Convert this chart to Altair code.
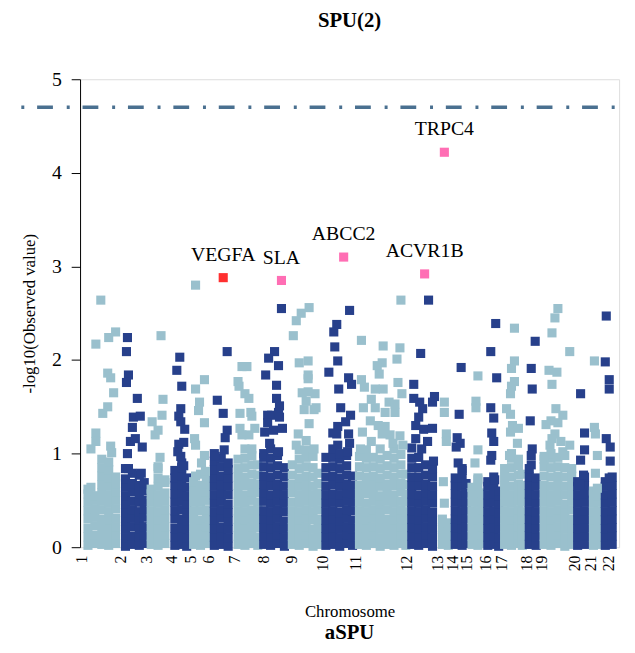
import altair as alt
import pandas as pd

# Chromosome start positions (cumulative gene index units)
chrom_starts = [83, 122, 148, 174, 193, 211, 237, 267, 295, 327, 360, 412,
                443, 458, 473, 492, 508, 533, 548, 582, 598, 616]

# Dense lower band: chromosome -> list of (position, [-log10 p values])
band = {
    1: [(89, [0.02, 0.11, 0.20, 0.30, 0.39, 0.48, 0.57, 0.62]),
        (96, [0.04, 0.13, 0.23, 0.32, 0.41, 0.50, 0.55]),
        (103, [0.03, 0.12, 0.21, 0.30, 0.40, 0.49, 0.58, 0.67, 0.76, 0.85, 0.94]),
        (110, [0.02, 0.11, 0.20, 0.29, 0.38, 0.47, 0.56, 0.65, 0.74, 0.83, 0.91]),
        (117, [0.04, 0.13, 0.22, 0.31, 0.41, 0.50, 0.59, 0.68, 0.75])],
    2: [(127, [0.01, 0.10, 0.19, 0.28, 0.37, 0.46, 0.55, 0.64, 0.73, 0.84]),
        (134, [0.03, 0.12, 0.22, 0.31, 0.40, 0.49, 0.59, 0.68, 0.79]),
        (141, [0.02, 0.11, 0.20, 0.29, 0.38, 0.48, 0.57, 0.66, 0.77]),
        (146, [0.04, 0.13, 0.22, 0.32, 0.41, 0.50, 0.60, 0.69])],
    3: [(153, [0.03, 0.12, 0.21, 0.30, 0.39, 0.48, 0.57, 0.62]),
        (160, [0.02, 0.11, 0.20, 0.29, 0.38, 0.47, 0.56, 0.65, 0.74, 0.84]),
        (167, [0.04, 0.13, 0.22, 0.31, 0.40, 0.49, 0.58, 0.69])],
    4: [(177, [0.02, 0.11, 0.20, 0.30, 0.39, 0.48, 0.57, 0.66, 0.74, 0.82]),
        (184, [0.03, 0.12, 0.21, 0.30, 0.40, 0.49, 0.58, 0.67, 0.76, 0.85, 0.90]),
        (189, [0.01, 0.10, 0.19, 0.28, 0.37, 0.46, 0.55, 0.64, 0.74])],
    5: [(196, [0.03, 0.12, 0.21, 0.30, 0.39, 0.48, 0.57, 0.66, 0.70]),
        (203, [0.02, 0.11, 0.20, 0.29, 0.39, 0.48, 0.57, 0.66, 0.78]),
        (209, [0.04, 0.13, 0.22, 0.31, 0.40, 0.50, 0.59, 0.68, 0.75])],
    6: [(217, [0.02, 0.11, 0.20, 0.29, 0.38, 0.47, 0.56, 0.65, 0.74, 0.83, 0.92, 1.00]),
        (224, [0.03, 0.12, 0.21, 0.31, 0.40, 0.49, 0.58, 0.67, 0.76, 0.86, 0.95]),
        (231, [0.01, 0.10, 0.19, 0.28, 0.37, 0.46, 0.56, 0.65, 0.74, 0.83, 0.90])],
    7: [(241, [0.03, 0.12, 0.21, 0.30, 0.39, 0.48, 0.57, 0.66, 0.75, 0.84, 0.94]),
        (248, [0.02, 0.11, 0.20, 0.29, 0.38, 0.47, 0.56, 0.66, 0.75, 0.85, 0.95, 1.05]),
        (255, [0.04, 0.13, 0.22, 0.31, 0.40, 0.50, 0.59, 0.68, 0.78, 0.88, 0.98]),
        (261, [0.02, 0.11, 0.21, 0.30, 0.39, 0.48, 0.58, 0.67, 0.77, 0.88])],
    8: [(267, [0.03, 0.12, 0.21, 0.30, 0.39, 0.49, 0.58, 0.67, 0.76, 0.86, 0.96, 1.00]),
        (274, [0.02, 0.11, 0.20, 0.29, 0.38, 0.47, 0.56, 0.66, 0.75, 0.85, 0.95, 1.05]),
        (281, [0.04, 0.13, 0.22, 0.31, 0.40, 0.49, 0.58, 0.67, 0.77, 0.87, 0.98]),
        (288, [0.01, 0.10, 0.19, 0.28, 0.38, 0.47, 0.56, 0.65, 0.75, 0.85])],
    9: [(296, [0.03, 0.12, 0.21, 0.30, 0.39, 0.48, 0.58, 0.67, 0.77, 0.88]),
        (303, [0.02, 0.11, 0.20, 0.29, 0.38, 0.47, 0.56, 0.65, 0.74, 0.84, 0.94, 1.04]),
        (310, [0.04, 0.13, 0.22, 0.31, 0.40, 0.49, 0.58, 0.67, 0.76, 0.86, 0.96, 1.04]),
        (317, [0.01, 0.10, 0.19, 0.29, 0.38, 0.47, 0.56, 0.65, 0.75, 0.85, 0.97]),
        (322, [0.03, 0.12, 0.21, 0.30, 0.40, 0.49, 0.58, 0.68, 0.79])],
    10: [(330, [0.02, 0.11, 0.20, 0.29, 0.38, 0.47, 0.56, 0.65, 0.75, 0.85, 0.96]),
         (337, [0.03, 0.12, 0.21, 0.30, 0.39, 0.48, 0.57, 0.67, 0.76, 0.86, 0.96, 1.05]),
         (344, [0.01, 0.10, 0.19, 0.28, 0.37, 0.47, 0.56, 0.65, 0.74, 0.84, 0.94, 1.00]),
         (351, [0.04, 0.13, 0.22, 0.31, 0.40, 0.49, 0.58, 0.67, 0.77, 0.87, 0.98]),
         (357, [0.02, 0.11, 0.20, 0.29, 0.39, 0.48, 0.57, 0.66, 0.76])],
    11: [(364, [0.03, 0.12, 0.21, 0.30, 0.39, 0.48, 0.57, 0.66, 0.76, 0.86, 0.97]),
         (371, [0.02, 0.11, 0.20, 0.29, 0.38, 0.47, 0.57, 0.66, 0.75, 0.85, 0.95, 1.04]),
         (378, [0.04, 0.13, 0.22, 0.31, 0.40, 0.49, 0.58, 0.67, 0.76, 0.86, 0.96]),
         (385, [0.01, 0.10, 0.19, 0.28, 0.37, 0.46, 0.55, 0.65, 0.74, 0.84, 0.94, 1.05]),
         (392, [0.03, 0.12, 0.21, 0.30, 0.40, 0.49, 0.58, 0.67, 0.77, 0.87, 0.98]),
         (399, [0.02, 0.11, 0.20, 0.29, 0.38, 0.47, 0.56, 0.66, 0.75, 0.85, 0.95, 1.05]),
         (406, [0.04, 0.13, 0.22, 0.31, 0.40, 0.49, 0.59, 0.68, 0.78, 0.88, 0.99]),
         (411, [0.02, 0.11, 0.20, 0.29, 0.38, 0.48, 0.57, 0.67, 0.78])],
    12: [(417, [0.03, 0.12, 0.21, 0.30, 0.39, 0.48, 0.57, 0.66, 0.75, 0.85, 0.95, 1.06]),
         (424, [0.02, 0.11, 0.20, 0.29, 0.38, 0.47, 0.56, 0.66, 0.75, 0.85, 0.96]),
         (431, [0.04, 0.13, 0.22, 0.31, 0.40, 0.49, 0.58, 0.67, 0.77, 0.88]),
         (438, [0.01, 0.10, 0.19, 0.28, 0.37, 0.47, 0.56, 0.65, 0.75, 0.84])],
    13: [(448, [0.03, 0.12, 0.21, 0.30]),
         (454, [0.02, 0.11, 0.20, 0.26])],
    14: [(461, [0.03, 0.12, 0.21, 0.30, 0.39, 0.48, 0.57, 0.66, 0.74]),
         (468, [0.02, 0.11, 0.20, 0.29, 0.38, 0.47, 0.56, 0.65, 0.74, 0.84]),
         (472, [0.04, 0.13, 0.22, 0.31, 0.40, 0.49, 0.58, 0.68])],
    15: [(478, [0.03, 0.12, 0.21, 0.30, 0.39, 0.48, 0.57, 0.64]),
         (484, [0.02, 0.11, 0.20, 0.29, 0.38, 0.47, 0.56, 0.65, 0.74]),
         (488, [0.04, 0.13, 0.22, 0.31, 0.40, 0.49, 0.58])],
    16: [(494, [0.02, 0.11, 0.20, 0.29, 0.38, 0.47, 0.56, 0.65, 0.70]),
         (500, [0.03, 0.12, 0.21, 0.30, 0.39, 0.48, 0.57, 0.66, 0.75]),
         (505, [0.01, 0.10, 0.19, 0.28, 0.37, 0.46, 0.55, 0.60])],
    17: [(511, [0.03, 0.12, 0.21, 0.30, 0.39, 0.48, 0.57, 0.66, 0.75, 0.84]),
         (518, [0.02, 0.11, 0.20, 0.29, 0.38, 0.47, 0.56, 0.65, 0.75, 0.85, 0.95, 1.00]),
         (525, [0.04, 0.13, 0.22, 0.31, 0.40, 0.49, 0.58, 0.67, 0.77, 0.87, 0.94]),
         (529, [0.02, 0.11, 0.20, 0.29, 0.38, 0.48, 0.57, 0.66, 0.78])],
    18: [(536, [0.03, 0.12, 0.21, 0.30, 0.39, 0.48, 0.57, 0.66, 0.75, 0.84]),
         (543, [0.02, 0.11, 0.20, 0.29, 0.38, 0.47, 0.56, 0.65, 0.74])],
    19: [(551, [0.03, 0.12, 0.21, 0.30, 0.39, 0.48, 0.57, 0.66, 0.76, 0.86, 0.94]),
         (558, [0.02, 0.11, 0.20, 0.29, 0.38, 0.47, 0.56, 0.65, 0.75, 0.85, 0.95, 1.00]),
         (565, [0.04, 0.13, 0.22, 0.31, 0.40, 0.49, 0.58, 0.67, 0.76, 0.86, 0.96]),
         (572, [0.01, 0.10, 0.19, 0.28, 0.37, 0.46, 0.56, 0.65, 0.75, 0.85, 0.98]),
         (579, [0.03, 0.12, 0.21, 0.30, 0.40, 0.49, 0.58, 0.67, 0.76, 0.84])],
    20: [(585, [0.02, 0.11, 0.20, 0.29, 0.38, 0.47, 0.56, 0.65, 0.70]),
         (592, [0.03, 0.12, 0.21, 0.30, 0.39, 0.48, 0.57, 0.66, 0.75])],
    21: [(601, [0.02, 0.11, 0.20, 0.29, 0.38, 0.47, 0.56, 0.60]),
         (606, [0.03, 0.12, 0.21, 0.30, 0.39, 0.48, 0.55])],
    22: [(613, [0.02, 0.11, 0.20, 0.29, 0.38, 0.47, 0.56, 0.65, 0.70]),
         (620, [0.03, 0.12, 0.21, 0.30, 0.39, 0.48, 0.57, 0.66, 0.75])],
}

# Scattered upper points: chromosome -> list of (position, -log10 p)
scatter = {
    1: [(102, 2.64), (117, 2.30), (110, 2.24), (97, 2.17), (109, 1.86), (112, 1.81), (115, 1.65),
        (109, 1.50), (104, 1.43), (97, 1.22), (97, 1.13), (92, 1.05), (112, 1.08), (113, 1.01), (92, 0.64)],
    2: [(129, 2.24), (128, 2.09), (130, 1.84), (128, 1.76), (139, 1.59), (135, 1.39), (142, 1.40),
        (134, 1.28), (132, 1.13), (137, 1.16), (144, 1.07), (129, 1.00), (130, 0.84), (143, 0.79)],
    3: [(163, 2.26), (165, 1.58), (164, 1.41), (154, 1.34), (160, 1.25), (157, 1.20), (162, 0.96),
        (160, 0.86), (167, 0.72)],
    4: [(182, 2.03), (179, 1.89), (184, 1.72), (183, 1.48), (181, 1.40), (183, 1.34), (187, 1.26),
        (186, 1.12), (181, 1.10), (183, 0.97), (180, 1.02), (186, 0.87)],
    5: [(198, 2.80), (207, 1.79), (198, 1.69), (202, 1.55), (201, 1.46), (207, 1.33), (197, 1.16),
        (198, 1.09), (207, 0.98), (204, 0.90), (198, 0.76), (208, 0.81)],
    6: [(230, 2.09), (220, 1.57), (226, 1.43), (230, 1.25), (228, 1.17), (227, 1.04), (218, 0.97)],
    7: [(250, 1.93), (245, 1.93), (241, 1.77), (242, 1.72), (248, 1.64), (252, 1.59), (243, 1.43),
        (254, 1.44), (255, 1.40), (243, 1.27), (258, 1.27), (245, 1.20), (252, 1.20), (255, 1.05)],
    8: [(285, 2.55), (278, 2.09), (272, 2.02), (282, 1.94), (269, 1.84), (280, 1.73), (280, 1.59),
        (283, 1.51), (282, 1.44), (271, 1.41), (275, 1.41), (271, 1.33), (283, 1.39), (268, 1.23),
        (277, 1.25), (286, 1.27), (273, 1.11), (282, 1.02)],
    9: [(313, 2.56), (305, 2.50), (300, 2.42), (297, 2.26), (303, 1.97), (312, 1.99), (312, 1.84),
        (312, 1.80), (306, 1.65), (312, 1.66), (319, 1.64), (310, 1.56), (308, 1.47), (318, 1.47),
        (320, 1.49), (313, 1.32), (302, 1.21), (310, 1.14), (300, 1.09), (318, 1.05)],
    10: [(341, 2.38), (338, 2.30), (339, 2.14), (342, 1.99), (333, 1.87), (343, 1.69), (345, 1.49),
         (353, 1.81), (354, 2.53), (342, 1.29), (350, 1.34), (337, 1.22), (341, 1.21), (342, 1.09),
         (352, 1.02), (356, 1.74), (355, 1.41), (353, 1.21), (354, 1.11)],
    11: [(406, 2.64), (366, 2.21), (388, 2.15), (405, 2.13), (402, 2.01), (387, 1.97), (382, 1.94),
         (384, 1.85), (366, 1.79), (403, 1.76), (369, 1.71), (380, 1.69), (388, 1.69), (407, 1.64),
         (376, 1.58), (368, 1.49), (380, 1.49), (394, 1.55), (400, 1.53), (390, 1.44), (400, 1.44),
         (375, 1.35), (383, 1.30), (390, 1.29), (367, 1.23), (387, 1.21), (395, 1.20), (405, 1.19),
         (376, 1.13), (398, 1.11), (408, 1.09), (365, 1.05)],
    12: [(434, 2.64), (426, 2.07), (419, 1.74), (440, 1.61), (419, 1.59), (425, 1.55), (438, 1.55),
         (428, 1.48), (424, 1.39), (421, 1.30), (429, 1.26), (438, 1.27), (421, 1.16), (433, 1.13),
         (427, 1.05), (439, 0.92)],
    13: [(450, 1.55), (450, 1.44), (452, 1.21), (452, 1.13), (449, 0.70), (450, 0.47)],
    14: [(467, 1.92), (465, 1.42), (463, 1.17), (466, 1.11), (462, 1.07), (464, 0.90), (468, 0.82)],
    15: [(484, 1.83), (482, 1.56), (482, 1.49), (484, 1.04), (481, 0.90), (484, 0.72)],
    16: [(502, 2.39), (497, 2.09), (503, 1.81), (497, 1.49), (500, 1.38), (498, 1.22), (500, 1.13),
         (498, 0.98), (497, 0.93), (501, 0.72)],
    17: [(521, 2.34), (521, 1.99), (518, 1.91), (521, 1.77), (518, 1.72), (517, 1.64), (513, 1.48),
         (517, 1.42), (519, 1.30), (525, 1.27), (517, 1.23), (524, 1.11), (516, 0.98)],
    18: [(542, 2.20), (538, 1.91), (539, 1.69), (537, 1.35), (539, 1.05), (538, 0.98), (538, 0.88)],
    19: [(565, 2.55), (562, 2.45), (559, 2.29), (577, 2.09), (556, 1.89), (564, 1.87), (559, 1.74),
         (563, 1.48), (570, 1.41), (558, 1.35), (565, 1.33), (553, 1.31), (562, 1.21), (559, 1.16),
         (568, 1.13), (577, 1.09), (557, 1.09), (570, 1.02), (551, 0.97)],
    20: [(588, 1.64), (592, 1.22), (592, 1.04), (588, 0.93), (591, 0.77), (587, 0.67)],
    21: [(602, 1.99), (603, 1.21), (602, 1.28), (605, 0.98), (603, 0.79), (605, 0.63)],
    22: [(614, 2.47), (613, 1.98), (617, 1.79), (617, 1.69), (614, 1.16), (618, 1.07), (618, 0.92),
         (617, 0.74)],
}

# Highlighted genes
hl_genes = ["VEGFA", "SLA", "ABCC2", "ACVR1B", "TRPC4"]
hl_pos = [226, 285, 348, 430, 450]
hl_val = [2.88, 2.85, 3.10, 2.92, 4.22]
hl_color = ["#FF3030", "#FF6EB4", "#FF6EB4", "#FF6EB4", "#FF6EB4"]

threshold = 4.70

rows = []
for chrom, cols in band.items():
    for pos, vals in cols:
        for v in vals:
            rows.append({"chrom": chrom, "pos": pos, "val": v})
for chrom, pts in scatter.items():
    for pos, v in pts:
        rows.append({"chrom": chrom, "pos": pos, "val": v})
df = pd.DataFrame(rows)
df["parity"] = ["odd" if c % 2 == 1 else "even" for c in df["chrom"]]

hl = pd.DataFrame({"gene": hl_genes, "pos": hl_pos, "val": hl_val, "col": hl_color})

W, H = 546, 474
FONT = "Liberation Serif"

starts_js = "[" + ",".join(str(s) for s in chrom_starts) + "]"

xscale = alt.Scale(domain=[81, 627], nice=False, zero=False)
yscale = alt.Scale(domain=[0, 5], nice=False)

xaxis = alt.Axis(values=chrom_starts, labelExpr=f"indexof({starts_js}, datum.value) + 1",
                 labelAngle=270, labelAlign="right", labelBaseline="middle",
                 labelFontSize=16, labelPadding=8,
                 labelOverlap=False, labelFlush=False,
                 ticks=False, domain=False, grid=False,
                 title="Chromosome", titleFontSize=17, titlePadding=33)
yaxis = alt.Axis(values=[0, 1, 2, 3, 4, 5], format="d", labelFontSize=20,
                 labelPadding=10, tickSize=9, grid=False,
                 title="-log10(Observed value)", titleFontSize=17, titlePadding=13)

X = alt.X("pos:Q", scale=xscale, axis=xaxis)
Y = alt.Y("val:Q", scale=yscale, axis=yaxis)

points = alt.Chart(df).mark_square(size=85, opacity=1).encode(
    x=X, y=Y,
    color=alt.Color("parity:N", scale=alt.Scale(domain=["odd", "even"], range=["#9AC0CD", "#27408B"]),
                    legend=None),
)

hl_points = alt.Chart(hl).mark_square(size=85, opacity=1).encode(
    x=X, y=Y, color=alt.Color("col:N", scale=None),
)

hl_text = alt.Chart(hl).mark_text(font=FONT, fontSize=20, baseline="alphabetic", dy=-17,
                                  color="black").encode(x=X, y=Y, text="gene:N")

rule = alt.Chart(pd.DataFrame({"val": [threshold]})).mark_rule(
    color="#4A7090", strokeWidth=3.5, strokeDash=[3, 13, 16, 14], strokeDashOffset=32.5, clip=False
).encode(y=Y, x=alt.value(-73), x2=alt.value(W + 10))

title_txt = alt.Chart(pd.DataFrame({"t": ["SPU(2)"]})).mark_text(
    font=FONT, fontSize=21, fontWeight="bold", baseline="middle", align="center", color="black"
).encode(text="t:N", x=alt.value(W / 2), y=alt.value(-59))

sub_txt = alt.Chart(pd.DataFrame({"t": ["aSPU"]})).mark_text(
    font=FONT, fontSize=21, fontWeight="bold", baseline="middle", align="center", color="black"
).encode(text="t:N", x=alt.value(W / 2), y=alt.value(561))

chart = alt.layer(rule, points, hl_points, hl_text, title_txt, sub_txt).properties(
    width=W, height=H,
    autosize=alt.AutoSizeParams(type="none"),
    padding={"left": 73, "top": 68, "right": 8, "bottom": 103},
).configure_view(stroke=None).configure(
    background="white", font=FONT
).configure_axis(
    labelFont=FONT, titleFont=FONT, labelColor="black", titleColor="black",
    titleFontWeight="normal", tickColor="black", domainColor="black"
).configure_text(font=FONT)

chart.save("out.html", embed_options={"renderer": "svg", "actions": False})
